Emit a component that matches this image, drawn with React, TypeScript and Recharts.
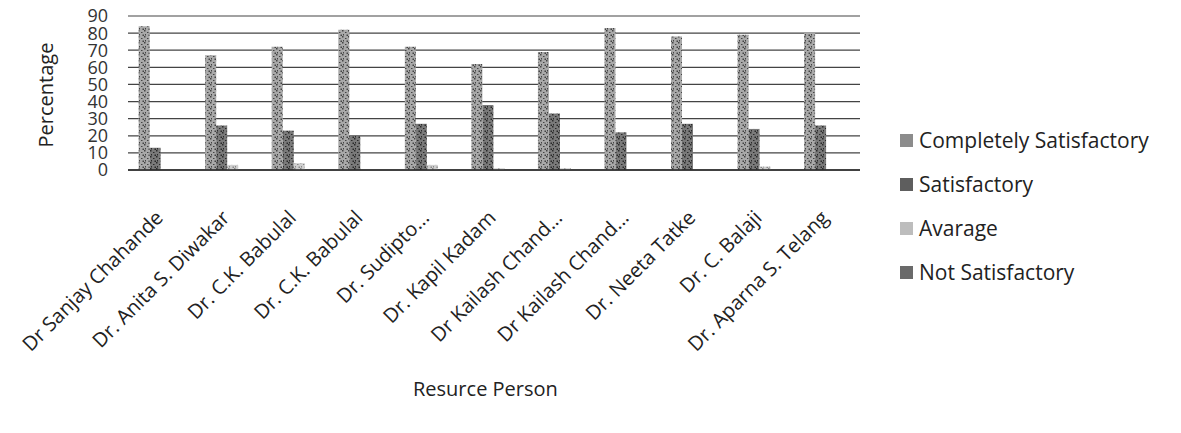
import { BarChart, Bar, XAxis, YAxis, CartesianGrid, Legend } from 'recharts';

const persons = [
	'Dr Sanjay Chahande',
	'Dr. Anita S. Diwakar',
	'Dr. C.K. Babulal',
	'Dr. C.K. Babulal',
	'Dr. Sudipto...',
	'Dr. Kapil Kadam',
	'Dr Kailash Chand...',
	'Dr Kailash Chand...',
	'Dr. Neeta Tatke',
	'Dr. C. Balaji',
	'Dr. Aparna S. Telang',
];
const completelySatisfactory = [84, 67, 72, 82, 72, 62, 69, 83, 78, 79, 80];
const satisfactory = [13, 26, 23, 20, 27, 38, 33, 22, 27, 24, 26];
const avarage = [0, 3, 4, 0, 3, 1, 1, 0, 0, 2, 0];
const notSatisfactory = [0, 0, 0, 0, 0, 0, 0, 0, 0, 0, 0];
const yTicks = [0, 10, 20, 30, 40, 50, 60, 70, 80, 90];

const data = persons.map((p, i) => ({
	idx: i,
	name: p,
	cs: completelySatisfactory[i],
	s: satisfactory[i],
	av: avarage[i],
	ns: notSatisfactory[i],
}));

const FONT = '"Open Sans", sans-serif';

const series = [
	{ key: 'cs', label: 'Completely Satisfactory', fill: 'url(#pCs)', swatch: '#8c8c8c' },
	{ key: 's', label: 'Satisfactory', fill: 'url(#pS)', swatch: '#5e5e5e' },
	{ key: 'av', label: 'Avarage', fill: 'url(#pAv)', swatch: '#bdbdbd' },
	{ key: 'ns', label: 'Not Satisfactory', fill: 'url(#pNs)', swatch: '#6a6a6a' },
];

const XTick = (props: any) => {
	const { x, y, payload } = props;
	return (
		<g transform={`translate(${x + 3},${y + 41}) rotate(-45)`}>
			<text x={0} y={0} textAnchor='end' fontFamily={FONT} fontSize={20} fill='#222'>
				{persons[payload.value]}
			</text>
		</g>
	);
};

const YLabel = (props: any) => {
	const vb = props.viewBox;
	const cx = 45;
	const cy = vb.y + vb.height / 2 + 2;
	return (
		<text x={cx} y={cy} transform={`rotate(-90, ${cx}, ${cy})`} textAnchor='middle' dominantBaseline='central' fontFamily={FONT} fontSize={20} fill='#222'>
			Percentage
		</text>
	);
};

const LegendBox = () => (
	<div style={{ paddingLeft: 40, fontFamily: FONT, fontSize: 21, color: '#222', whiteSpace: 'nowrap' }}>
		{series.map((s) => (
			<div key={s.key} style={{ display: 'flex', alignItems: 'center', height: 44 }}>
				<span style={{ display: 'inline-block', flexShrink: 0, width: 13, height: 13, background: s.swatch, marginRight: 6 }} />
				<span>{s.label}</span>
			</div>
		))}
	</div>
);

function speckle(id: string, base: string, dark: string) {
	return (
		<pattern id={id} width={6} height={6} patternUnits='userSpaceOnUse'>
			<rect width={6} height={6} fill={base} />
			<rect x={0} y={0} width={1.5} height={1.5} fill={dark} />
			<rect x={3} y={2} width={1.5} height={1} fill={dark} />
			<rect x={1} y={4} width={1} height={1.5} fill={dark} />
			<rect x={4.5} y={4.5} width={1.5} height={1.5} fill={dark} />
		</pattern>
	);
}

export default function App() {
	return (
		<div style={{ position: 'absolute', left: 0, top: 0, width: 1181, height: 433, background: '#fff' }}>
			<BarChart
				width={1181}
				height={433}
				data={data}
				barCategoryGap='16%'
				barGap={0}
				margin={{ top: 16, right: 21, left: 68, bottom: 63 }}
			>
				<defs>
					{speckle('pCs', '#a9a9a9', '#444')}
					{speckle('pS', '#7a7a7a', '#2a2a2a')}
					{speckle('pAv', '#cfcfcf', '#888')}
					{speckle('pNs', '#888', '#333')}
				</defs>
				<CartesianGrid vertical={false} stroke='#444' strokeWidth={1.2} />
				<XAxis
					dataKey='idx'
					interval={0}
					height={200}
					tick={<XTick />}
					tickLine={false}
					axisLine={{ stroke: '#222', strokeWidth: 1.5 }}
				/>
				<YAxis
					width={60}
					domain={[0, 90]}
					ticks={yTicks}
					interval={0}
					axisLine={false}
					tickLine={false}
					tickMargin={14}
					tick={{ fontFamily: FONT, fontSize: 18, fill: '#333' }}
					label={<YLabel />}
				/>
				<Legend
					layout='vertical'
					align='right'
					verticalAlign='middle'
					width={300}
					content={<LegendBox />}
					wrapperStyle={{ top: 118 }}
				/>
				{series.map((s) => (
					<Bar key={s.key} dataKey={s.key} name={s.label} fill={s.fill} isAnimationActive={false} />
				))}
			</BarChart>
			<div style={{ position: 'absolute', left: 413, top: 375, fontFamily: FONT, fontSize: 20, color: '#222' }}>
				Resurce Person
			</div>
		</div>
	);
}
